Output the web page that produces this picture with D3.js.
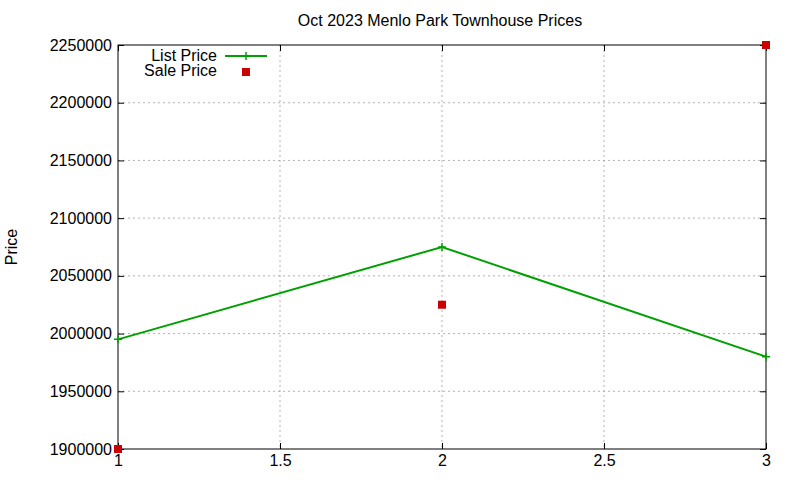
<!DOCTYPE html>
<html><head><meta charset="utf-8">
<script src="https://cdn.jsdelivr.net/npm/d3@7"></script>
<style>body{margin:0;background:#fff}</style></head>
<body><svg id="c" width="800" height="480"></svg>
<script>
const xs = [1, 2, 3];
const listPrice = [1995000, 2075000, 1980000];
const salePrice = [1900000, 2025000, 2250000];
const xTicks = [1, 1.5, 2, 2.5, 3];
const yTicks = [1900000,1950000,2000000,2050000,2100000,2150000,2200000,2250000];

const svg = d3.select("#c");
const L=118,R=766,T=45,B=449;
const x = d3.scaleLinear().domain([1,3]).range([L,R]);
const y = d3.scaleLinear().domain([1900000,2250000]).range([B,T]);
const font = "Liberation Sans, Arial, sans-serif";
const fs = 16;

svg.append("g").selectAll("line").data(xTicks.slice(1,-1)).join("line")
  .attr("x1",d=>x(d)).attr("x2",d=>x(d)).attr("y1",T).attr("y2",B)
  .attr("stroke","#a0a0a0").attr("stroke-dasharray","2,3").attr("stroke-width",0.8);
svg.append("g").selectAll("line").data(yTicks.slice(1,-1)).join("line")
  .attr("x1",L).attr("x2",R).attr("y1",d=>y(d)).attr("y2",d=>y(d))
  .attr("stroke","#a0a0a0").attr("stroke-dasharray","2,3").attr("stroke-width",0.8);

const xa = svg.append("g").attr("transform",`translate(0,${B})`)
  .call(d3.axisBottom(x).tickValues(xTicks).tickFormat(d=>String(d)).tickSizeInner(-6).tickSizeOuter(0).tickPadding(6));
const xa2 = svg.append("g").attr("transform",`translate(0,${T})`)
  .call(d3.axisTop(x).tickValues(xTicks).tickFormat("").tickSizeInner(-6).tickSizeOuter(0));
const ya = svg.append("g").attr("transform",`translate(${L},0)`)
  .call(d3.axisLeft(y).tickValues(yTicks).tickFormat(d=>String(d)).tickSizeInner(-6).tickSizeOuter(0).tickPadding(6));
const ya2 = svg.append("g").attr("transform",`translate(${R},0)`)
  .call(d3.axisRight(y).tickValues(yTicks).tickFormat("").tickSizeInner(-6).tickSizeOuter(0));
[xa,xa2,ya,ya2].forEach(g=>{g.select(".domain").remove();g.selectAll("line").attr("stroke","#000");
  g.selectAll("text").attr("font-family",font).attr("font-size",fs).attr("fill","#000");});
svg.append("rect").attr("x",L).attr("y",T).attr("width",R-L).attr("height",B-T)
  .attr("fill","none").attr("stroke","#000");

svg.append("text").attr("x",440).attr("y",26).attr("text-anchor","middle")
  .attr("font-family",font).attr("font-size",fs).text("Oct 2023 Menlo Park Townhouse Prices");
svg.append("text").attr("transform","translate(17,247) rotate(-90)").attr("text-anchor","middle")
  .attr("font-family",font).attr("font-size",fs).text("Price");

const green="#00a000", red="#cc0000";
const pts = xs.map((d,i)=>({x:d,l:listPrice[i],s:salePrice[i]}));
svg.append("path").datum(pts).attr("fill","none").attr("stroke",green).attr("stroke-width",2)
  .attr("d",d3.line().x(d=>x(d.x)).y(d=>y(d.l)));
const plus=(g,cx,cy)=>{g.append("path").attr("d",`M${cx-4},${cy}H${cx+4}M${cx},${cy-4}V${cy+4}`)
  .attr("stroke",green).attr("stroke-width",1.5);};
pts.forEach(d=>plus(svg,x(d.x),y(d.l)));
svg.append("g").selectAll("rect").data(pts).join("rect")
  .attr("x",d=>x(d.x)-4).attr("y",d=>y(d.s)-4).attr("width",8).attr("height",8).attr("fill",red);

svg.append("text").attr("x",217).attr("y",61).attr("text-anchor","end").attr("font-family",font).attr("font-size",fs).text("List Price");
svg.append("line").attr("x1",225).attr("x2",267).attr("y1",56).attr("y2",56).attr("stroke",green).attr("stroke-width",2);
plus(svg,246,56);
svg.append("text").attr("x",217).attr("y",76).attr("text-anchor","end").attr("font-family",font).attr("font-size",fs).text("Sale Price");
svg.append("rect").attr("x",242).attr("y",68).attr("width",8).attr("height",8).attr("fill",red);
</script></body></html>
